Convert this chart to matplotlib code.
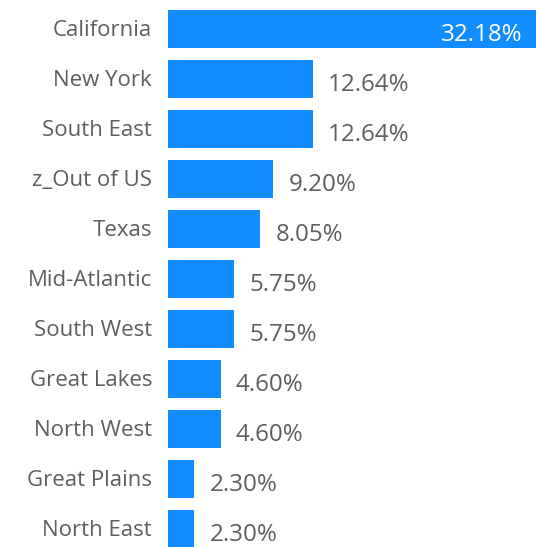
import matplotlib
matplotlib.use("Agg")
import matplotlib.pyplot as plt

regions = ["California", "New York", "South East", "z_Out of US", "Texas",
           "Mid-Atlantic", "South West", "Great Lakes", "North West",
           "Great Plains", "North East"]
shares = [32.18, 12.64, 12.64, 9.20, 8.05, 5.75, 5.75, 4.60, 4.60, 2.30, 2.30]

W, H = 536, 547
fig = plt.figure(figsize=(W / 100, H / 100), dpi=100)
ax = fig.add_axes([168 / W, 0, 1 - 168 / W, 1])

bar_color = "#118DFF"
text_color = "#605E5C"
font = "Open Sans"

ypos = list(range(len(regions)))
ax.barh(ypos, shares, height=0.76, color=bar_color)
ax.set_xlim(0, max(shares))
ax.set_ylim(10.36, -0.58)

for y, (name, v) in enumerate(zip(regions, shares)):
    ax.annotate(name, xy=(0, y), xytext=(-11.5, -1), textcoords="offset points",
                ha="right", va="center", fontsize=16, color=text_color,
                family=font, annotation_clip=False)
    label = f"{v:.2f}%"
    if v == max(shares):
        ax.annotate(label, xy=(v, y), xytext=(-10, -4.5), textcoords="offset points",
                    ha="right", va="center", fontsize=17.4, color="white",
                    family=font)
    else:
        ax.annotate(label, xy=(v, y), xytext=(11, -4.5), textcoords="offset points",
                    ha="left", va="center", fontsize=17.4, color=text_color,
                    family=font)

ax.axis("off")
fig.savefig("out.png", dpi=100)
